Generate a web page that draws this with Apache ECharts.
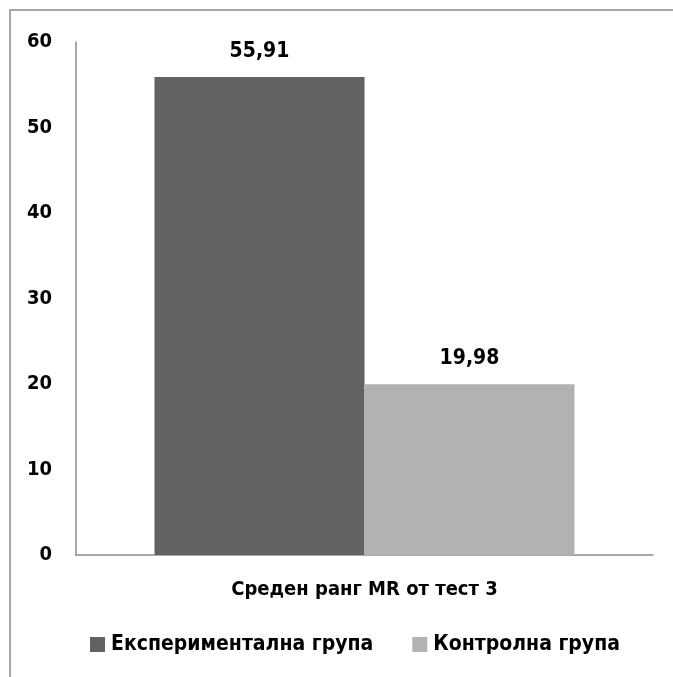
<!DOCTYPE html>
<html>
<head>
<meta charset="utf-8">
<script src="https://cdn.jsdelivr.net/npm/echarts@6/dist/echarts.min.js"></script>
<style>
  html, body { margin: 0; padding: 0; background: #fff; }
  #chart { width: 673px; height: 677px; }
</style>
</head>
<body>
<div id="chart"></div>
<script>
// Mean rank (MR) on test 3 for the two groups
const categories = ['Среден ранг MR от тест 3'];
const seriesNames = ['Експериментална група', 'Контролна група'];
const experimental = [55.91];
const control = [19.98];
const yTicks = [0, 10, 20, 30, 40, 50, 60];

const FONT = '"Liberation Sans Narrow", "Arial Narrow", "DejaVu Sans Condensed", sans-serif';
const fmt = v => v.toFixed(2).replace('.', ',');

const chart = echarts.init(document.getElementById('chart'), null, { renderer: 'canvas' });

const labelStyle = {
  show: true,
  position: 'top',
  distance: 15,
  fontFamily: FONT,
  fontWeight: 'bold',
  fontSize: 21,
  color: '#000',
  formatter: p => fmt(p.value)
};

chart.setOption({
  animation: false,
  backgroundColor: '#fff',
  textStyle: { fontFamily: FONT },
  graphic: [{
    type: 'rect',
    shape: { x: 10, y: 10, width: 800, height: 800 },
    style: { fill: 'none', stroke: '#8c8c8c', lineWidth: 1.5 },
    silent: true
  }],
  grid: { left: 76, right: 20, top: 42, bottom: 122, containLabel: false },
  legend: {
    left: 90,
    top: 634,
    padding: 0,
    itemWidth: 15,
    itemHeight: 15,
    itemGap: 39,
    icon: 'rect',
    textStyle: { fontFamily: FONT, fontWeight: 'bold', fontSize: 21, color: '#000', padding: [0, 0, 0, 1] },
    data: seriesNames
  },
  xAxis: {
    type: 'category',
    data: categories,
    axisLine: { lineStyle: { color: '#8c8c8c', width: 1.5 } },
    axisTick: { show: false },
    axisLabel: { fontFamily: FONT, fontWeight: 'bold', fontSize: 20, color: '#000', margin: 25 }
  },
  yAxis: {
    type: 'value',
    min: yTicks[0],
    max: yTicks[yTicks.length - 1],
    interval: 10,
    axisLine: { show: true, lineStyle: { color: '#8c8c8c', width: 1.5 } },
    axisTick: { show: false },
    splitLine: { show: false },
    axisLabel: { fontFamily: FONT, fontWeight: 'bold', fontSize: 20, color: '#000', margin: 24 }
  },
  series: [
    {
      name: seriesNames[0],
      type: 'bar',
      data: experimental,
      barWidth: 210,
      barGap: '0%',
      itemStyle: { color: '#626262' },
      label: labelStyle
    },
    {
      name: seriesNames[1],
      type: 'bar',
      data: control,
      barWidth: 210,
      barGap: '0%',
      itemStyle: { color: '#b2b2b2' },
      label: labelStyle
    }
  ]
});
</script>
</body>
</html>
